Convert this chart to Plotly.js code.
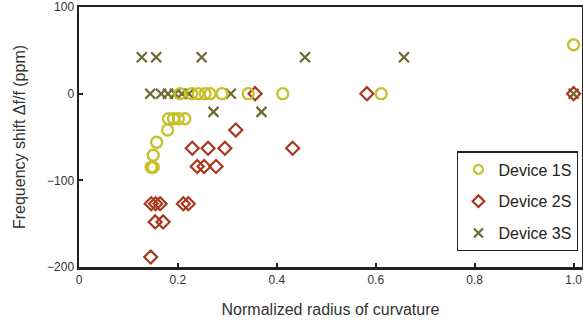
<!DOCTYPE html>
<html>
<head>
<meta charset="utf-8">
<script src="https://cdn.plot.ly/plotly-3.0.1.min.js"></script>
<style>html,body{margin:0;padding:0;background:#fff;}#chart{width:583px;height:322px;}</style>
</head>
<body>
<div id="chart"></div>
<script>
// Device 1S (circles)
const dev1S_x = [0.204, 0.228, 0.241, 0.255, 0.265, 0.289, 0.342, 0.412, 0.611, 1.0,
                 0.181, 0.191, 0.201, 0.214, 0.179, 0.157, 0.150, 0.150, 0.146];
const dev1S_y = [0, 0, 0, 0, 0, 0, 0, 0, 0, 56.5,
                 -29, -29, -29, -29, -42, -56, -71, -85, -85];
// Device 2S (diamonds)
const dev2S_x = [0.356, 0.582, 1.0, 0.317, 0.229, 0.261, 0.295, 0.432,
                 0.239, 0.253, 0.277, 0.146, 0.155, 0.164, 0.211, 0.221,
                 0.154, 0.170, 0.145];
const dev2S_y = [0, 0, 0, -42, -63, -63, -63, -63,
                 -84, -84, -84, -127, -127, -127, -127, -127,
                 -148, -148, -188.5];
// Device 3S (crosses)
const dev3S_x = [0.127, 0.156, 0.248, 0.457, 0.657,
                 0.144, 0.166, 0.180, 0.194, 0.208, 0.222, 0.307, 1.0,
                 0.272, 0.369];
const dev3S_y = [42, 42, 42, 42, 42,
                 0, 0, 0, 0, 0, 0, 0, 0,
                 -21, -21];
const xTickVals = [0, 0.2, 0.4, 0.6, 0.8, 1.0];
const xTickText = ['0', '0.2', '0.4', '0.6', '0.8', '1.0'];
const yTickVals = [-200, -100, 0, 100];
const seriesNames = ['Device 1S', 'Device 2S', 'Device 3S'];

const c1 = '#c6c12b', c2 = '#a8371d', c3 = '#6b6a2c';
const traces = [
  {x: dev3S_x, y: dev3S_y, name: seriesNames[2], type: 'scatter', mode: 'markers',
   marker: {symbol: 'x-thin-open', size: 10, color: c3, line: {width: 2.2, color: c3}}, showlegend: false},
  {x: dev2S_x, y: dev2S_y, name: seriesNames[1], type: 'scatter', mode: 'markers',
   marker: {symbol: 'diamond-open', size: 10, color: c2, line: {width: 2.2, color: c2}}, showlegend: false},
  {x: dev1S_x, y: dev1S_y, name: seriesNames[0], type: 'scatter', mode: 'markers',
   marker: {symbol: 'circle-open', size: 11, color: c1, line: {width: 2.4, color: c1}}, showlegend: false},
  // legend entries in order
  {x: [null], y: [null], name: seriesNames[0], legendgroup: 'a', type: 'scatter', mode: 'markers',
   marker: {symbol: 'circle-open', size: 9, color: c1, line: {width: 2.2, color: c1}}},
  {x: [null], y: [null], name: seriesNames[1], legendgroup: 'b', type: 'scatter', mode: 'markers',
   marker: {symbol: 'diamond-open', size: 9, color: c2, line: {width: 2.2, color: c2}}},
  {x: [null], y: [null], name: seriesNames[2], legendgroup: 'c', type: 'scatter', mode: 'markers',
   marker: {symbol: 'x-thin-open', size: 9, color: c3, line: {width: 2.2, color: c3}}}
];

const layout = {
  width: 583, height: 322,
  margin: {l: 79, r: 1, t: 7, b: 55},
  paper_bgcolor: '#fff', plot_bgcolor: '#fff',
  font: {family: 'Liberation Sans, Arial, sans-serif', color: '#333', size: 12},
  xaxis: {
    range: [0, 1.017], tickvals: xTickVals, ticktext: xTickText,
    ticks: 'inside', ticklen: 4, tickwidth: 2, tickcolor: '#222',
    showline: true, linewidth: 2.5, linecolor: '#222', mirror: true,
    showgrid: false, zeroline: false,
    tickfont: {size: 12, color: '#333'},
    title: {text: 'Normalized radius of curvature', font: {size: 16, color: '#333'}, standoff: 18}
  },
  yaxis: {
    range: [-200, 100], tickvals: yTickVals,
    ticks: 'inside', ticklen: 4, tickwidth: 2, tickcolor: '#222',
    showline: true, linewidth: 2.5, linecolor: '#222', mirror: true,
    showgrid: false, zeroline: false,
    tickfont: {size: 12, color: '#333'},
    title: {text: 'Frequency shift \u0394f/f (ppm)', font: {size: 16, color: '#333'}, standoff: 18}
  },
  legend: {
    x: 0.752, y: 0.445, xanchor: 'left', yanchor: 'top',
    bordercolor: '#222', borderwidth: 1.2, bgcolor: '#fff',
    font: {size: 16, color: '#222'}, itemwidth: 30, tracegroupgap: 8
  }
};

Plotly.newPlot('chart', traces, layout, {displayModeBar: false, staticPlot: true});
</script>
</body>
</html>
